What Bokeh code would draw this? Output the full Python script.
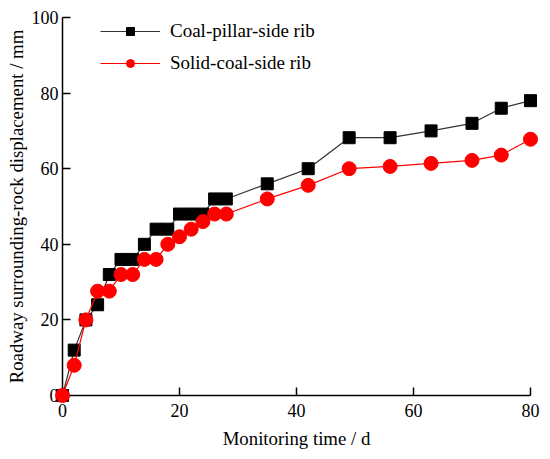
from bokeh.plotting import figure
from bokeh.models import Range1d, Legend, LegendItem, FixedTicker
from bokeh.embed import file_html
from bokeh.resources import INLINE

days = [0, 2, 4, 6, 8, 10, 12, 14, 16, 18, 20, 22, 24, 26, 28, 35, 42, 49, 56, 63, 70, 75, 80]
pillar_side = [0, 12, 20, 24, 32, 36, 36, 40, 44, 44, 48, 48, 48, 52, 52, 56, 60, 68.2, 68.2, 70, 72, 76, 78]
solid_side = [0, 8, 20, 27.6, 27.6, 32, 32, 36, 36, 40, 42, 44, 46, 48, 48, 52, 55.6, 60, 60.6, 61.4, 62.2, 63.6, 67.8]
x_ticks = [0, 20, 40, 60, 80]
y_ticks = [0, 20, 40, 60, 80, 100]
names = ["Coal-pillar-side rib", "Solid-coal-side rib"]

FONT = "Liberation Serif"

p = figure(width=550, height=459, output_backend="svg", toolbar_location=None,
           x_range=Range1d(0, 80), y_range=Range1d(0, 100),
           min_border_left=62, min_border_top=17, min_border_right=20, min_border_bottom=64)
p.outline_line_color = None
p.grid.visible = False
p.background_fill_color = "white"

for ax in (p.xaxis[0], p.yaxis[0]):
    ax.major_tick_in = 8
    ax.major_tick_out = 0
    ax.minor_tick_in = 0
    ax.minor_tick_out = 0
    ax.axis_line_color = "black"
    ax.axis_line_width = 1.5
    ax.major_tick_line_width = 1.5
    ax.major_label_text_font = FONT
    ax.major_label_text_font_size = "18px"
    ax.major_label_text_color = "black"
    ax.axis_label_text_font = FONT
    ax.axis_label_text_font_size = "18.8px"
    ax.axis_label_text_font_style = "normal"
    ax.axis_label_text_color = "black"

p.xaxis[0].ticker = FixedTicker(ticks=x_ticks)
p.yaxis[0].ticker = FixedTicker(ticks=y_ticks)
p.xaxis[0].axis_label = "Monitoring time / d"
p.yaxis[0].axis_label = "Roadway surrounding-rock displacement / mm"
p.xaxis[0].major_label_standoff = 8
p.yaxis[0].major_label_standoff = 4
p.xaxis[0].axis_label_standoff = 8
p.yaxis[0].axis_label_standoff = 2

l1 = p.line(days, pillar_side, line_color="#333333", line_width=1.2)
m1 = p.scatter(days, pillar_side, marker="square", size=12, fill_color="black", line_color="black")
l2 = p.line(days, solid_side, line_color="#ff0000", line_width=1.2)
m2 = p.scatter(days, solid_side, marker="circle", size=14, fill_color="#ff0000", line_color="#ff0000")
for r in (l1, m1, l2, m2):
    r.level = "overlay"

legend = Legend(items=[LegendItem(label=names[0], renderers=[l1, m1]),
                       LegendItem(label=names[1], renderers=[l2, m2])],
                location=(38, 321))
legend.border_line_color = None
legend.background_fill_alpha = 0
legend.padding = 0
legend.margin = 0
legend.glyph_width = 60
legend.glyph_height = 20
legend.label_height = 20
legend.spacing = 10
legend.label_standoff = 10
legend.label_text_font = FONT
legend.label_text_font_size = "19px"
legend.label_text_color = "black"
p.add_layout(legend)

open("out.html", "w").write(file_html(p, INLINE))
